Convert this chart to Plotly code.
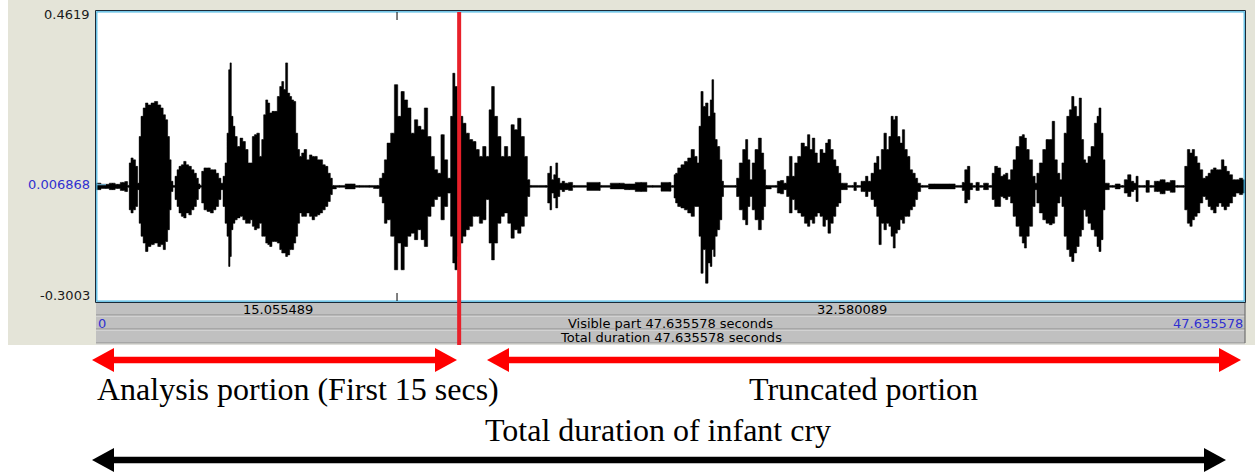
import plotly.graph_objects as go

# ---------------------------------------------------------------------------
# Infant cry waveform: amplitude envelope (upper / lower) over time, seconds
# ---------------------------------------------------------------------------
t = [0.00, 0.41, 0.69, 0.90, 1.11, 1.27, 1.35, 1.41, 1.49, 1.59, 1.69, 1.76,
     1.82, 1.91, 2.00, 2.10, 2.21, 2.35, 2.49, 2.63, 2.74, 2.83, 2.93, 3.01,
     3.08, 3.15, 3.23, 3.32, 3.40, 3.48, 3.59, 3.68, 3.79, 3.90, 4.01, 4.12,
     4.21, 4.28, 4.34, 4.42, 4.53, 4.67, 4.81, 4.92, 5.03, 5.14, 5.22, 5.31,
     5.39, 5.47, 5.53, 5.58, 5.64, 5.72, 5.80, 5.91, 6.03, 6.14, 6.25, 6.36,
     6.44, 6.52, 6.61, 6.72, 6.83, 6.91, 6.99, 7.08, 7.16, 7.24, 7.35, 7.46,
     7.57, 7.66, 7.74, 7.82, 7.90, 7.99, 8.07, 8.15, 8.24, 8.32, 8.40, 8.48,
     8.57, 8.68, 8.79, 8.90, 9.01, 9.12, 9.23, 9.34, 9.45, 9.56, 9.67, 9.76,
     9.84, 10.09, 10.57, 10.92, 11.33, 11.68, 11.82, 11.91, 12.00,
     12.13, 12.30, 12.44, 12.58, 12.71, 12.85, 12.99, 13.13, 13.27, 13.41,
     13.54, 13.68, 13.82, 13.96, 14.10, 14.23, 14.37, 14.51, 14.65, 14.75,
     14.83, 14.93, 15.04, 15.15, 15.27, 15.41, 15.55, 15.69, 15.82, 15.96,
     16.10, 16.24, 16.35, 16.45, 16.58, 16.72, 16.86, 17.00, 17.14, 17.27,
     17.41, 17.55, 17.69, 17.83, 17.94, 18.03, 18.66, 18.79, 18.85, 18.93,
     19.02, 19.10, 19.18, 19.28, 19.37, 19.49, 19.69, 19.83, 20.87, 20.94,
     21.70, 22.11, 22.60, 23.08, 23.77, 23.91, 24.02,
     24.05, 24.18, 24.32, 24.46, 24.60, 24.74, 24.88, 24.96, 25.04, 25.12,
     25.22, 25.32, 25.43, 25.50, 25.57, 25.64, 25.70, 25.81, 25.91, 25.98,
     26.05, 26.51, 26.60, 26.74, 26.88, 26.98, 27.06, 27.16, 27.25, 27.39,
     27.53, 27.64, 27.72, 27.80, 28.19, 28.30, 28.44, 28.58, 28.68, 28.81,
     28.91, 29.02, 29.16, 29.30, 29.44, 29.55, 29.64, 29.75, 29.85, 29.96,
     30.07, 30.20, 30.29, 30.40, 30.51, 30.62, 30.73, 30.84, 30.93, 31.37,
     31.47, 31.58, 31.85, 31.95, 32.06, 32.20, 32.31, 32.42, 32.50, 32.61,
     32.72, 32.82, 32.92, 33.00, 33.10, 33.17, 33.28, 33.39, 33.47, 33.58,
     33.69, 33.80, 33.91, 34.02, 34.11, 34.27, 34.76, 35.38, 35.86, 35.96,
     36.07, 36.18, 36.28, 36.41, 36.55, 36.69, 36.90, 37.10, 37.20, 37.31,
     37.45, 37.56, 37.66, 37.75, 37.86, 37.97, 38.07, 38.21, 38.35, 38.45,
     38.53, 38.62, 38.76, 38.90, 38.97, 39.04, 39.18, 39.32, 39.45, 39.59,
     39.69, 39.80, 39.91, 40.01, 40.08, 40.19, 40.30, 40.41, 40.49, 40.60,
     40.71, 40.81, 40.90, 40.99, 41.07, 41.18, 41.32, 41.46, 41.54, 41.62,
     41.71, 41.79, 41.87, 42.15, 42.36, 42.56, 42.70, 42.84, 42.98, 43.07,
     43.16, 43.25, 43.46, 43.60, 43.74, 44.01, 44.22, 44.43, 44.64, 44.84,
     45.08, 45.19, 45.30, 45.40, 45.49, 45.60, 45.71, 45.82, 45.95, 46.05,
     46.16, 46.27, 46.38, 46.50, 46.60, 46.71, 46.82, 46.93, 47.05, 47.19,
     47.33, 47.47, 47.61]

hi = [0.011, 0.008, 0.011, 0.008, 0.013, 0.015, 0.005, 0.064, 0.077, 0.072, 0.055, 0.011,
      0.133, 0.186, 0.208, 0.221, 0.216, 0.221, 0.225, 0.216, 0.208, 0.190, 0.177, 0.133,
      0.072, 0.016, 0.005, 0.029, 0.046, 0.055, 0.059, 0.068, 0.059, 0.055, 0.046, 0.037,
      0.024, 0.009, 0.005, 0.042, 0.051, 0.051, 0.046, 0.046, 0.037, 0.024, 0.011, 0.029,
      0.064, 0.142, 0.308, 0.326, 0.186, 0.160, 0.133, 0.107, 0.129, 0.120, 0.099, 0.064,
      0.064, 0.133, 0.138, 0.142, 0.081, 0.125, 0.190, 0.229, 0.221, 0.195, 0.199, 0.199,
      0.238, 0.264, 0.277, 0.256, 0.326, 0.247, 0.238, 0.229, 0.225, 0.142, 0.099, 0.081,
      0.090, 0.099, 0.072, 0.085, 0.081, 0.081, 0.072, 0.072, 0.059, 0.055, 0.037, 0.024,
      0.005, 0.005, 0.009, 0.005, 0.005, 0.005, 0.024, 0.037, 0.072,
      0.116, 0.142, 0.269, 0.186, 0.251, 0.229, 0.208, 0.142, 0.177, 0.160,
      0.151, 0.208, 0.133, 0.081, 0.046, 0.037, 0.138, 0.072, 0.024, 0.186,
      0.299, 0.264, 0.229, 0.186, 0.168, 0.142, 0.125, 0.120, 0.099, 0.081,
      0.107, 0.081, 0.203, 0.264, 0.186, 0.133, 0.081, 0.107, 0.081, 0.164,
      0.151, 0.181, 0.133, 0.081, 0.020, 0.005, 0.005, 0.037, 0.055, 0.020,
      0.033, 0.064, 0.024, 0.011, 0.016, 0.011, 0.013, 0.005, 0.013, 0.005,
      0.011, 0.009, 0.013, 0.005, 0.013, 0.005, 0.033,
      0.037, 0.051, 0.059, 0.068, 0.077, 0.099, 0.081, 0.064, 0.160, 0.251,
      0.212, 0.221, 0.186, 0.229, 0.282, 0.195, 0.125, 0.107, 0.072, 0.016,
      0.005, 0.005, 0.024, 0.064, 0.099, 0.125, 0.072, 0.020, 0.064, 0.099,
      0.129, 0.090, 0.046, 0.005, 0.005, 0.016, 0.018, 0.011, 0.029, 0.081,
      0.029, 0.064, 0.081, 0.116, 0.107, 0.138, 0.099, 0.129, 0.090, 0.064,
      0.099, 0.090, 0.116, 0.125, 0.099, 0.072, 0.055, 0.037, 0.011, 0.005,
      0.013, 0.005, 0.016, 0.029, 0.016, 0.037, 0.064, 0.081, 0.046, 0.099,
      0.142, 0.099, 0.133, 0.186, 0.177, 0.186, 0.133, 0.116, 0.151, 0.099,
      0.081, 0.046, 0.037, 0.024, 0.011, 0.005, 0.009, 0.009, 0.005, 0.013,
      0.046, 0.055, 0.011, 0.005, 0.013, 0.005, 0.011, 0.005, 0.037, 0.055,
      0.051, 0.029, 0.033, 0.037, 0.020, 0.046, 0.072, 0.107, 0.133, 0.138,
      0.129, 0.099, 0.072, 0.029, 0.011, 0.037, 0.064, 0.099, 0.125, 0.125,
      0.173, 0.072, 0.037, 0.020, 0.064, 0.142, 0.186, 0.203, 0.238, 0.212,
      0.186, 0.234, 0.125, 0.072, 0.064, 0.081, 0.107, 0.168, 0.186, 0.208,
      0.142, 0.072, 0.011, 0.005, 0.009, 0.005, 0.020, 0.033, 0.016, 0.011,
      0.029, 0.005, 0.005, 0.018, 0.005, 0.016, 0.020, 0.013, 0.018, 0.005,
      0.005, 0.055, 0.099, 0.090, 0.099, 0.081, 0.064, 0.046, 0.024, 0.029,
      0.037, 0.046, 0.051, 0.046, 0.046, 0.072, 0.055, 0.042, 0.033, 0.020,
      0.020, 0.024, 0.020]

lo = [-0.006, -0.003, -0.006, -0.003, -0.008, -0.011, 0.000, -0.059, -0.067, -0.059, -0.050, -0.006,
      -0.094, -0.128, -0.146, -0.168, -0.155, -0.150, -0.146, -0.155, -0.150, -0.163, -0.142, -0.111,
      -0.059, -0.011, 0.000, -0.032, -0.050, -0.067, -0.076, -0.080, -0.067, -0.072, -0.059, -0.050,
      -0.032, -0.004, 0.000, -0.041, -0.059, -0.063, -0.067, -0.059, -0.050, -0.032, -0.006, -0.050,
      -0.094, -0.128, -0.207, -0.181, -0.111, -0.094, -0.085, -0.080, -0.076, -0.085, -0.094, -0.094,
      -0.085, -0.102, -0.111, -0.107, -0.094, -0.128, -0.128, -0.146, -0.150, -0.155, -0.142, -0.142,
      -0.146, -0.163, -0.172, -0.172, -0.181, -0.177, -0.163, -0.163, -0.146, -0.128, -0.094, -0.067,
      -0.076, -0.076, -0.067, -0.076, -0.085, -0.076, -0.072, -0.067, -0.059, -0.050, -0.037, -0.019,
      -0.004, 0.000, -0.004, 0.000, 0.000, -0.003, -0.024, -0.041, -0.094,
      -0.085, -0.128, -0.216, -0.146, -0.216, -0.155, -0.128, -0.120, -0.137, -0.111,
      -0.137, -0.155, -0.076, -0.050, -0.032, -0.024, -0.085, -0.050, -0.015, -0.128,
      -0.198, -0.216, -0.181, -0.146, -0.128, -0.111, -0.102, -0.076, -0.076, -0.094,
      -0.085, -0.032, -0.146, -0.190, -0.146, -0.094, -0.076, -0.067, -0.094, -0.133,
      -0.111, -0.120, -0.102, -0.076, -0.024, 0.000, 0.000, -0.041, -0.059, -0.015,
      -0.028, -0.054, -0.024, -0.006, -0.011, -0.006, -0.008, 0.000, -0.008, 0.000,
      -0.004, -0.006, -0.011, 0.000, -0.010, 0.000, -0.028,
      -0.041, -0.050, -0.054, -0.059, -0.067, -0.076, -0.050, -0.050, -0.128, -0.225,
      -0.163, -0.251, -0.198, -0.207, -0.163, -0.181, -0.128, -0.111, -0.085, -0.024,
      0.000, 0.000, -0.024, -0.059, -0.085, -0.098, -0.050, -0.024, -0.059, -0.085,
      -0.111, -0.085, -0.050, -0.004, 0.000, -0.015, -0.017, -0.006, -0.024, -0.067,
      -0.032, -0.059, -0.067, -0.076, -0.094, -0.102, -0.085, -0.094, -0.076, -0.067,
      -0.076, -0.102, -0.085, -0.120, -0.094, -0.076, -0.050, -0.041, -0.006, 0.000,
      -0.008, 0.000, -0.011, -0.024, -0.011, -0.032, -0.050, -0.076, -0.150, -0.094,
      -0.111, -0.094, -0.102, -0.128, -0.159, -0.120, -0.111, -0.085, -0.094, -0.076,
      -0.076, -0.059, -0.050, -0.032, -0.011, 0.000, -0.004, -0.004, 0.000, -0.008,
      -0.041, -0.032, -0.006, 0.000, -0.008, 0.000, -0.006, 0.000, -0.032, -0.050,
      -0.050, -0.024, -0.028, -0.032, -0.024, -0.041, -0.076, -0.102, -0.128, -0.146,
      -0.159, -0.128, -0.102, -0.050, -0.006, -0.041, -0.067, -0.085, -0.094, -0.098,
      -0.094, -0.076, -0.041, -0.024, -0.050, -0.128, -0.163, -0.181, -0.194, -0.172,
      -0.155, -0.128, -0.111, -0.059, -0.076, -0.094, -0.111, -0.128, -0.155, -0.168,
      -0.137, -0.059, -0.006, 0.000, -0.004, 0.000, -0.015, -0.024, -0.011, -0.006,
      -0.037, 0.000, 0.000, -0.013, 0.000, -0.011, -0.017, -0.008, -0.013, 0.000,
      0.000, -0.059, -0.094, -0.102, -0.085, -0.076, -0.067, -0.041, -0.024, -0.032,
      -0.050, -0.059, -0.067, -0.050, -0.041, -0.050, -0.059, -0.050, -0.041, -0.024,
      -0.015, -0.019, -0.015]

# Sound editor settings
y_max = 0.4619
y_mid = 0.006868
y_min = -0.3003
total_dur = 47.635578
cut_time = 15.055489          # end of the analysed portion (cursor)
marker_time = 12.48           # small marker tick on the time axis
left_len = cut_time
right_len = total_dur - cut_time

W, H = 1255, 475


def px(x):
    return x / W


def py(y):
    return 1 - y / H


fig = go.Figure()

# Filled amplitude envelope, drawn column-wise like a sampled waveform
fig.add_trace(go.Scatter(
    x=t + t[::-1], y=hi + lo[::-1],
    fill="toself", fillcolor="black", mode="lines",
    line=dict(color="black", width=0.5, shape="hvh"),
    hoverinfo="skip", showlegend=False))

# Vertical strokes at every envelope sample
sx, sy = [], []
for ti, a, b in zip(t, hi, lo):
    sx += [ti, ti, None]
    sy += [b, a, None]
fig.add_trace(go.Scatter(x=sx, y=sy, mode="lines",
                         line=dict(color="black", width=1),
                         hoverinfo="skip", showlegend=False))

beige = "#E4E4D8"
shapes = [
    # window background
    dict(type="rect", xref="paper", yref="paper", x0=px(8), x1=1,
         y0=py(345), y1=1, fillcolor=beige, line=dict(width=0), layer="below"),
    # drawing area
    dict(type="rect", xref="paper", yref="paper", x0=px(96), x1=px(1245),
         y0=py(302), y1=py(11), fillcolor="white", line=dict(width=0), layer="below"),
    # time bars
    dict(type="rect", xref="paper", yref="paper", x0=px(96), x1=px(1245),
         y0=py(343), y1=py(302), fillcolor="#C0C0C0", line=dict(width=0), layer="below"),
]
for yy in (315, 329, 343):
    shapes.append(dict(type="line", xref="paper", yref="paper", x0=px(96), x1=px(1245),
                       y0=py(yy), y1=py(yy), line=dict(color="#8E8E8E", width=1.2)))
    shapes.append(dict(type="line", xref="paper", yref="paper", x0=px(96), x1=px(1245),
                       y0=py(yy + 1.2), y1=py(yy + 1.2), line=dict(color="#DADADA", width=1)))
shapes.append(dict(type="line", xref="paper", yref="paper", x0=px(1245), x1=px(1245),
                   y0=py(343), y1=py(302), line=dict(color="#707070", width=1.2)))
# drawing area frame
shapes.append(dict(type="rect", xref="paper", yref="paper", x0=px(95.5), x1=px(1245.5),
                   y0=py(302.5), y1=py(10.5), line=dict(color="#1B2A38", width=1)))
shapes.append(dict(type="rect", xref="paper", yref="paper", x0=px(96.8), x1=px(1244.2),
                   y0=py(301.2), y1=py(11.8), line=dict(color="#47B4E0", width=1.2)))
# marker ticks on top and bottom edges
shapes.append(dict(type="line", xref="x", yref="paper", x0=marker_time, x1=marker_time,
                   y0=py(20), y1=py(12), line=dict(color="black", width=1)))
shapes.append(dict(type="line", xref="x", yref="paper", x0=marker_time, x1=marker_time,
                   y0=py(301), y1=py(293), line=dict(color="black", width=1)))
# mid-value tick on the left edge
shapes.append(dict(type="line", xref="paper", yref="y", x0=px(97), x1=px(106),
                   y0=y_mid, y1=y_mid, line=dict(color="#7FC8F0", width=1)))
# cut line at the end of the analysed portion
shapes.append(dict(type="line", xref="x", yref="paper", x0=cut_time, x1=cut_time,
                   y0=py(345), y1=py(12), line=dict(color="#E8202A", width=4)))


def double_arrow(x0, x1, yc, color, shaft=6.5, head_len=22, head_h=24):
    out = [dict(type="rect", xref="paper", yref="paper",
                x0=px(x0 + head_len - 1), x1=px(x1 - head_len + 1),
                y0=py(yc + shaft / 2), y1=py(yc - shaft / 2),
                fillcolor=color, line=dict(width=0))]
    for tip, base in ((x0, x0 + head_len), (x1, x1 - head_len)):
        path = (f"M {px(tip)} {py(yc)} L {px(base)} {py(yc - head_h / 2)} "
                f"L {px(base)} {py(yc + head_h / 2)} Z")
        out.append(dict(type="path", xref="paper", yref="paper", path=path,
                        fillcolor=color, line=dict(width=0)))
    return out


shapes += double_arrow(92, 457, 360, "#FF0000")
shapes += double_arrow(487, 1241, 360, "#FF0000")
shapes += double_arrow(92, 1226, 460, "black")

sans = "DejaVu Sans"
serif = "Liberation Serif"
blue = "#3030D0"
f_axis = dict(family=sans, size=13, color="#1A1A1A")
f_bar = dict(family=sans, size=13, color="black")
f_blue = dict(family=sans, size=13, color=blue)
f_big = dict(family=serif, size=32, color="black")


def label(x, y, text, font, xref="paper", yref="paper", xanchor="center"):
    return dict(x=x, y=y, xref=xref, yref=yref, text=text, showarrow=False,
                xanchor=xanchor, yanchor="middle", font=font)


ann = [
    label(px(92), py(15), f"{y_max:.4f}", f_axis, xanchor="right"),
    label(px(92), y_mid, f"{y_mid:.6f}", f_blue, yref="y", xanchor="right"),
    label(px(92), py(295), f"{y_min:.4f}", f_axis, xanchor="right"),
    label(left_len / 2, py(309), f"{left_len:.6f}", f_bar, xref="x"),
    label(cut_time + right_len / 2, py(309), f"{right_len:.6f}", f_bar, xref="x"),
    label(0, py(323), "0", f_blue, xref="x", xanchor="left"),
    label(total_dur / 2, py(323), f"Visible part {total_dur:.6f} seconds", f_bar, xref="x"),
    label(total_dur, py(323), f"{total_dur:.6f}", f_blue, xref="x", xanchor="right"),
    label(total_dur / 2, py(337), f"Total duration {total_dur:.6f} seconds", f_bar, xref="x"),
    label(px(95), py(389), "Analysis portion (First 15 secs)", f_big, xanchor="left"),
    label(px(863), py(389), "Truncated portion", f_big),
    label(px(658), py(430), "Total duration of infant cry", f_big),
]

fig.update_layout(
    width=W, height=H,
    margin=dict(l=0, r=0, t=0, b=0),
    paper_bgcolor="white", plot_bgcolor="rgba(0,0,0,0)",
    xaxis=dict(range=[0, total_dur], domain=[px(96), px(1245)], visible=False,
               fixedrange=True),
    yaxis=dict(range=[y_min, y_max], domain=[py(302), py(11)], visible=False,
               fixedrange=True),
    shapes=shapes, annotations=ann, showlegend=False,
)

fig.write_html("out.html")
